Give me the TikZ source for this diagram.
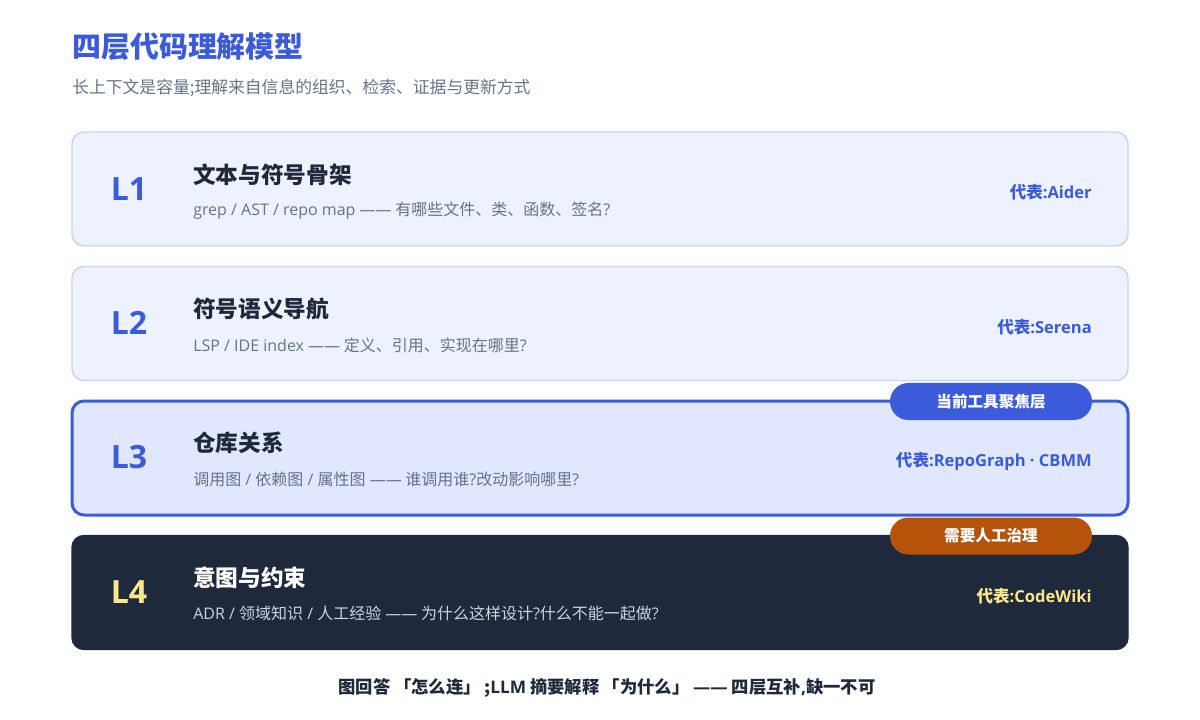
\documentclass[tikz,border=0pt]{standalone}
\usepackage{fontspec}
\setmainfont{Noto Sans CJK SC}
\newfontfamily\lat{Open Sans}
\definecolor{accent}{HTML}{3B5BDB}
\definecolor{ink}{HTML}{1E293B}
\definecolor{muted}{HTML}{64748B}
\definecolor{pale}{HTML}{EEF2FF}
\definecolor{focus}{HTML}{E0E7FF}
\definecolor{edge}{HTML}{C7D2FE}
\definecolor{gold}{HTML}{FDE68A}
\definecolor{rust}{HTML}{B45309}
\definecolor{soft}{HTML}{CBD5E1}

\begin{document}
\begin{tikzpicture}[x=0.75pt,y=-0.75pt,
	layer/.style={rounded corners=9pt,minimum width=792pt,minimum height=85.5pt,
		draw=edge,fill=pale,line width=1.1pt,inner sep=0pt},
	lvl/.style={font=\fontsize{24}{27}\lat\bfseries,text=accent},
	head/.style={anchor=west,inner sep=0pt,font=\fontsize{17}{19}\selectfont\bfseries,text=ink},
	desc/.style={anchor=west,inner sep=0pt,font=\fontsize{12}{14}\selectfont,text=muted},
	rep/.style={anchor=east,inner sep=0pt,font=\fontsize{12.4}{14}\selectfont\bfseries,text=accent},
	pill/.style={rounded corners=13.8pt,minimum width=151.5pt,minimum height=27.75pt,
		inner sep=0pt,text=white,font=\fontsize{11.7}{13}\selectfont\bfseries}]
	\useasboundingbox[fill=white] (0,0) rectangle (1200,720);
	% title
	\node[anchor=west,inner sep=0pt,font=\fontsize{21.7}{24}\selectfont\bfseries,text=accent]
		(title) at (72,47) {四层代码理解模型};
	\node[anchor=west,inner sep=0pt,font=\fontsize{12.6}{14}\selectfont,text=muted]
		(sub) at (72,88) {长上下文是容量;理解来自信息的组织、检索、证据与更新方式};
	% layers
	\node[layer] (b1) at (600,189) {};
	\node[layer] (b2) at (600,323.5) {};
	\node[layer,fill=focus,draw=accent,line width=2.25pt] (b3) at (600,458) {};
	\node[layer,fill=ink,draw=ink] (b4) at (600,592.5) {};
	% L1
	\node[lvl] (l1) at (129,189) {L1};
	\node[head] (h1) at (193,175) {文本与符号骨架};
	\node[desc] (d1) at (193,211) {{\lat grep / AST / repo map ——} 有哪些文件、类、函数、签名{\lat ?}};
	\node[rep] (r1) at (1092,192) {代表{\lat\bfseries :Aider}};
	% L2
	\node[lvl] (l2) at (129,323) {L2};
	\node[head] (h2) at (193,309) {符号语义导航};
	\node[desc] (d2) at (193,345) {{\lat LSP / IDE index ——} 定义、引用、实现在哪里{\lat ?}};
	\node[rep] (r2) at (1092,327) {代表{\lat\bfseries :Serena}};
	% L3
	\node[lvl] (l3) at (129,457) {L3};
	\node[head] (h3) at (193,443) {仓库关系};
	\node[desc] (d3) at (193,479) {调用图{\lat{} / }依赖图{\lat{} / }属性图{\lat{} ——} 谁调用谁{\lat ?}改动影响哪里{\lat ?}};
	\node[rep] (r3) at (1092,461) {代表{\lat\bfseries :RepoGraph · CBMM}};
	% L4
	\node[lvl,text=gold] (l4) at (129,592) {L4};
	\node[head,text=white] (h4) at (193,578) {意图与约束};
	\node[desc,text=soft] (d4) at (193,613) {{\lat ADR / }领域知识{\lat{} / }人工经验{\lat{} ——} 为什么这样设计{\lat ?}什么不能一起做{\lat ?}};
	\node[rep,text=gold] (r4) at (1092,596) {代表{\lat\bfseries :CodeWiki}};
	% badges
	\node[pill,fill=accent] (now) at (991,401.5) {当前工具聚焦层};
	\node[pill,fill=rust] (gov) at (991,536) {需要人工治理};
	% footer
	\node[inner sep=0pt,font=\fontsize{13}{15}\selectfont\bfseries,text=ink]
		(foot) at (607,688) {图回答\hspace{0.2em}「怎么连」\hspace{0.2em};{\lat\bfseries LLM} 摘要解释\hspace{0.2em}「为什么」\hspace{0.2em}{\lat\bfseries ——} 四层互补{\lat\bfseries ,}缺一不可};
\end{tikzpicture}
\end{document}
